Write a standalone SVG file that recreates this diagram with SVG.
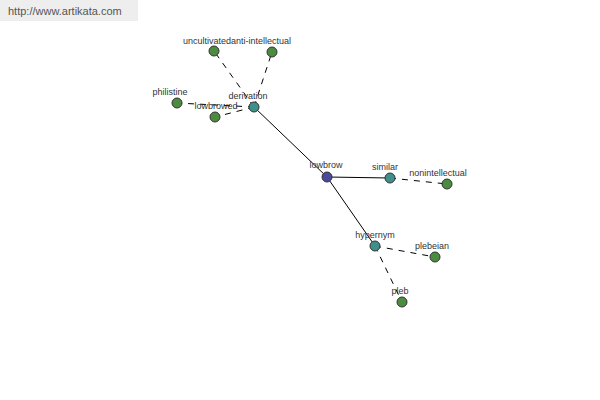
<svg xmlns="http://www.w3.org/2000/svg" width="600" height="400" viewBox="0 0 600 400">
<style>
.e{stroke:#000;stroke-width:1;fill:none}
.d{stroke-dasharray:6,6}
.n{stroke:#333;stroke-width:1}
.g{fill:#4c8c40}
.t{fill:#3f8f8a}
.b{fill:#4a4a9c}
text{font-family:"Liberation Sans",Arial,sans-serif;font-size:9px;fill:#333;text-anchor:middle}
</style>
<rect width="600" height="400" fill="#fff"/>
<g id="watermark">
<rect x="0" y="0" width="138" height="21" fill="#eeeeee"/>
<text x="8" y="15" style="text-anchor:start;font-size:11px;fill:#555">http://www.artikata.com</text>
</g>
<g id="connectors">
<line class="e" x1="327" y1="177" x2="254" y2="107"/>
<line class="e" x1="327" y1="177" x2="390" y2="178"/>
<line class="e" x1="327" y1="177" x2="375" y2="246"/>
<line class="e d" x1="254" y1="107" x2="214" y2="51"/>
<line class="e d" x1="254" y1="107" x2="272" y2="52"/>
<line class="e d" x1="254" y1="107" x2="177" y2="103"/>
<line class="e d" x1="254" y1="107" x2="215" y2="117"/>
<line class="e d" x1="390" y1="178" x2="447" y2="184"/>
<line class="e d" x1="375" y1="246" x2="435" y2="257"/>
<line class="e d" x1="375" y1="246" x2="402" y2="302"/>
</g>
<g id="uncultivated"><circle class="n g" cx="214" cy="51" r="5"/><text x="207" y="44">uncultivated</text></g>
<g id="anti-intellectual"><circle class="n g" cx="272" cy="52" r="5"/><text x="261" y="44">anti-intellectual</text></g>
<g id="philistine"><circle class="n g" cx="177" cy="103" r="5"/><text x="170" y="95">philistine</text></g>
<g id="lowbrowed"><circle class="n g" cx="215" cy="117" r="5"/><text x="216" y="109">lowbrowed</text></g>
<g id="derivation"><circle class="n t" cx="254" cy="107" r="5"/><text x="248" y="99">derivation</text></g>
<g id="lowbrow"><circle class="n b" cx="327" cy="177" r="5"/><text x="326" y="168">lowbrow</text></g>
<g id="similar"><circle class="n t" cx="390" cy="178" r="5"/><text x="385" y="170">similar</text></g>
<g id="nonintellectual"><circle class="n g" cx="447" cy="184" r="5"/><text x="438" y="176">nonintellectual</text></g>
<g id="hypernym"><circle class="n t" cx="375" cy="246" r="5"/><text x="375" y="238">hypernym</text></g>
<g id="plebeian"><circle class="n g" cx="435" cy="257" r="5"/><text x="432" y="249">plebeian</text></g>
<g id="pleb"><circle class="n g" cx="402" cy="302" r="5"/><text x="400" y="294">pleb</text></g>
</svg>
